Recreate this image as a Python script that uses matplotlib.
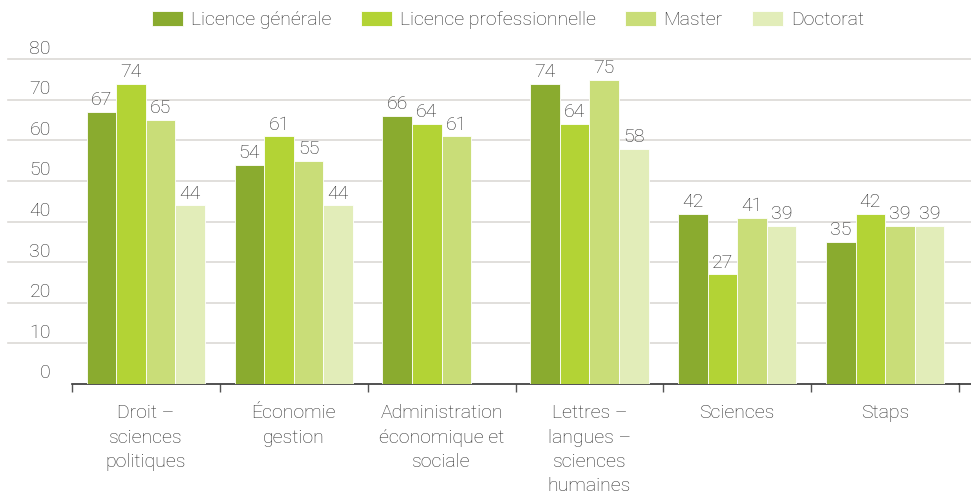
import numpy as np
import matplotlib.pyplot as plt

plt.rcParams['font.family'] = ['Roboto', 'DejaVu Sans']

categories = ['Droit –\nsciences\npolitiques', 'Économie\ngestion',
              'Administration\néconomique et\nsociale', 'Lettres –\nlangues –\nsciences\nhumaines',
              'Sciences', 'Staps']
series = ['Licence générale', 'Licence professionnelle', 'Master', 'Doctorat']
licence_generale = [67, 54, 66, 74, 42, 35]
licence_pro = [74, 61, 64, 64, 27, 42]
master = [65, 55, 61, 75, 41, 39]
doctorat = [44, 44, np.nan, 58, 39, 39]
yticks = [0, 10, 20, 30, 40, 50, 60, 70, 80]

colors = ['#8aab2f', '#b3d335', '#c9dd78', '#e2edb9']
values = [licence_generale, licence_pro, master, doctorat]
text_color = '#2b2b2b'
fs = 14
fw = 'light'

fig = plt.figure(figsize=(9.71, 5.03), dpi=100)
ax = fig.add_axes([72 / 971, 1 - 384 / 503, (959 - 72) / 971, (384 - 59.3) / 503])

x = np.arange(len(categories))
w = 0.2
for i, (vals, col, name) in enumerate(zip(values, colors, series)):
    pos = x - 0.3 + i * w
    ax.bar(pos, vals, width=w, color=col, edgecolor='white', linewidth=0.6,
           label=name, zorder=3)
    for p, v in zip(pos, vals):
        if not np.isnan(v):
            ax.text(p, v + 0.7, f'{v:.0f}', ha='center', va='bottom', fontsize=fs,
                    color=text_color, fontweight=fw)

ax.set_xlim(-0.5, len(categories) - 0.5)
ax.set_ylim(0, 80)

# gridlines spanning beyond the axes, labels sitting on top
px = 1 / 147.8
for t in yticks[1:]:
    ax.plot([-0.5 - 64 * px, len(categories) - 0.5 + 12 * px], [t, t],
            color='#dcd9d6', linewidth=1.2, zorder=1, clip_on=False)
for t in yticks:
    ax.text(-0.5 - 21 * px, t + 0.4, str(t), ha='right', va='bottom', fontsize=fs,
            color=text_color, fontweight=fw)

ax.set_yticks([])
ax.set_xticks(np.arange(len(categories) + 1) - 0.5)
ax.set_xticklabels([])
ax.tick_params(axis='x', length=6, color='#555555', width=1)
for c, label in zip(x, categories):
    ax.text(c, -5, label, ha='center', va='top', fontsize=fs, color=text_color,
            linespacing=1.45, fontweight=fw)

for s in ['top', 'right', 'left']:
    ax.spines[s].set_visible(False)
ax.spines['bottom'].set_color('#333333')
ax.spines['bottom'].set_linewidth(1.2)
ax.plot([len(categories) - 0.5, len(categories) - 0.5 + 12 * px], [0, 0],
        color='#333333', linewidth=1.2, clip_on=False)

leg = fig.legend(loc='center', bbox_to_anchor=(508 / 971, 1 - 20 / 503), ncol=4,
                 frameon=False, fontsize=fs, handlelength=1.6, handleheight=0.8,
                 columnspacing=1.5, handletextpad=0.4)
for t in leg.get_texts():
    t.set_color(text_color)
    t.set_fontweight(fw)

fig.savefig('out.png', dpi=100)
